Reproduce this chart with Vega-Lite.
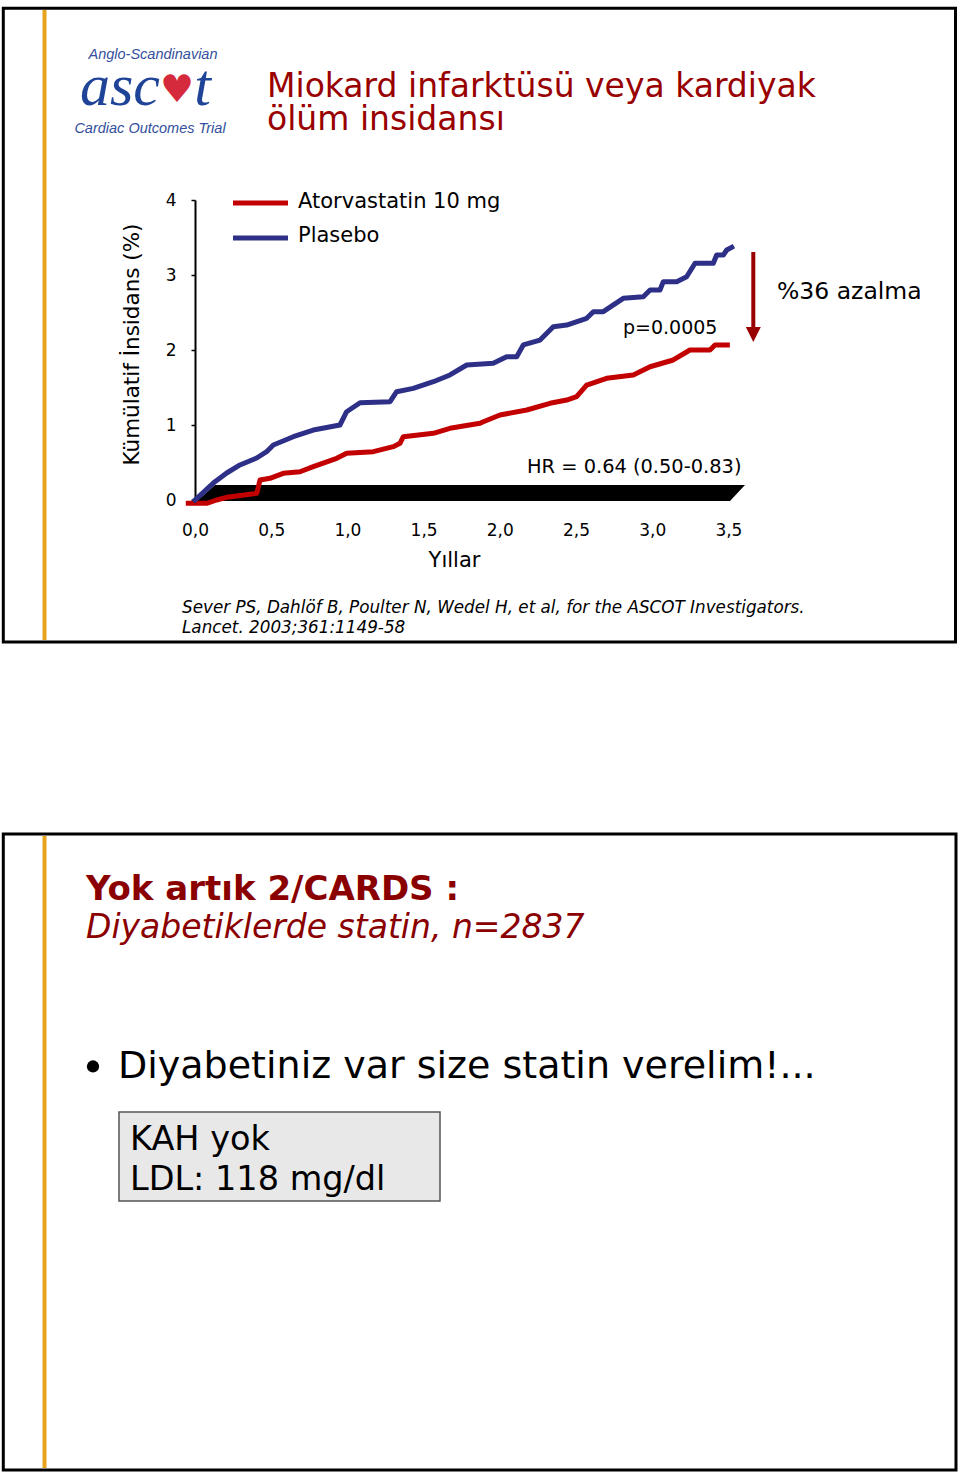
{
  "$schema": "https://vega.github.io/schema/vega-lite/v6.json",
  "width": 533.4,
  "height": 300,
  "autosize": {"type": "none"},
  "padding": {"left": 195, "top": 200, "right": 231.6, "bottom": 977},
  "background": "white",
  "config": {"view": {"stroke": null}, "font": "DejaVu Sans"},
  "datasets": {
    "egriler": [
      {"yil": -0.044, "oran": -0.044, "grup": "Atorvastatin 10 mg"},
      {"yil": 0.077, "oran": -0.044, "grup": "Atorvastatin 10 mg"},
      {"yil": 0.142, "oran": 0.0, "grup": "Atorvastatin 10 mg"},
      {"yil": 0.208, "oran": 0.036, "grup": "Atorvastatin 10 mg"},
      {"yil": 0.405, "oran": 0.089, "grup": "Atorvastatin 10 mg"},
      {"yil": 0.427, "oran": 0.267, "grup": "Atorvastatin 10 mg"},
      {"yil": 0.492, "oran": 0.289, "grup": "Atorvastatin 10 mg"},
      {"yil": 0.579, "oran": 0.356, "grup": "Atorvastatin 10 mg"},
      {"yil": 0.689, "oran": 0.377, "grup": "Atorvastatin 10 mg"},
      {"yil": 0.776, "oran": 0.444, "grup": "Atorvastatin 10 mg"},
      {"yil": 0.93, "oran": 0.556, "grup": "Atorvastatin 10 mg"},
      {"yil": 0.995, "oran": 0.623, "grup": "Atorvastatin 10 mg"},
      {"yil": 1.17, "oran": 0.644, "grup": "Atorvastatin 10 mg"},
      {"yil": 1.301, "oran": 0.711, "grup": "Atorvastatin 10 mg"},
      {"yil": 1.345, "oran": 0.756, "grup": "Atorvastatin 10 mg"},
      {"yil": 1.367, "oran": 0.844, "grup": "Atorvastatin 10 mg"},
      {"yil": 1.564, "oran": 0.889, "grup": "Atorvastatin 10 mg"},
      {"yil": 1.673, "oran": 0.956, "grup": "Atorvastatin 10 mg"},
      {"yil": 1.87, "oran": 1.023, "grup": "Atorvastatin 10 mg"},
      {"yil": 1.892, "oran": 1.044, "grup": "Atorvastatin 10 mg"},
      {"yil": 2.001, "oran": 1.133, "grup": "Atorvastatin 10 mg"},
      {"yil": 2.177, "oran": 1.2, "grup": "Atorvastatin 10 mg"},
      {"yil": 2.329, "oran": 1.289, "grup": "Atorvastatin 10 mg"},
      {"yil": 2.439, "oran": 1.333, "grup": "Atorvastatin 10 mg"},
      {"yil": 2.504, "oran": 1.377, "grup": "Atorvastatin 10 mg"},
      {"yil": 2.57, "oran": 1.533, "grup": "Atorvastatin 10 mg"},
      {"yil": 2.701, "oran": 1.623, "grup": "Atorvastatin 10 mg"},
      {"yil": 2.876, "oran": 1.667, "grup": "Atorvastatin 10 mg"},
      {"yil": 2.986, "oran": 1.777, "grup": "Atorvastatin 10 mg"},
      {"yil": 3.138, "oran": 1.867, "grup": "Atorvastatin 10 mg"},
      {"yil": 3.248, "oran": 2.0, "grup": "Atorvastatin 10 mg"},
      {"yil": 3.379, "oran": 2.0, "grup": "Atorvastatin 10 mg"},
      {"yil": 3.412, "oran": 2.067, "grup": "Atorvastatin 10 mg"},
      {"yil": 3.493, "oran": 2.067, "grup": "Atorvastatin 10 mg"},
      {"yil": 0.0, "oran": 0.0, "grup": "Plasebo"},
      {"yil": 0.131, "oran": 0.244, "grup": "Plasebo"},
      {"yil": 0.208, "oran": 0.36, "grup": "Plasebo"},
      {"yil": 0.295, "oran": 0.467, "grup": "Plasebo"},
      {"yil": 0.405, "oran": 0.56, "grup": "Plasebo"},
      {"yil": 0.47, "oran": 0.644, "grup": "Plasebo"},
      {"yil": 0.514, "oran": 0.733, "grup": "Plasebo"},
      {"yil": 0.645, "oran": 0.844, "grup": "Plasebo"},
      {"yil": 0.776, "oran": 0.933, "grup": "Plasebo"},
      {"yil": 0.951, "oran": 1.0, "grup": "Plasebo"},
      {"yil": 0.995, "oran": 1.177, "grup": "Plasebo"},
      {"yil": 1.083, "oran": 1.297, "grup": "Plasebo"},
      {"yil": 1.28, "oran": 1.311, "grup": "Plasebo"},
      {"yil": 1.323, "oran": 1.444, "grup": "Plasebo"},
      {"yil": 1.432, "oran": 1.489, "grup": "Plasebo"},
      {"yil": 1.564, "oran": 1.577, "grup": "Plasebo"},
      {"yil": 1.673, "oran": 1.667, "grup": "Plasebo"},
      {"yil": 1.783, "oran": 1.8, "grup": "Plasebo"},
      {"yil": 1.957, "oran": 1.823, "grup": "Plasebo"},
      {"yil": 2.045, "oran": 1.911, "grup": "Plasebo"},
      {"yil": 2.111, "oran": 1.911, "grup": "Plasebo"},
      {"yil": 2.154, "oran": 2.067, "grup": "Plasebo"},
      {"yil": 2.264, "oran": 2.133, "grup": "Plasebo"},
      {"yil": 2.351, "oran": 2.311, "grup": "Plasebo"},
      {"yil": 2.439, "oran": 2.333, "grup": "Plasebo"},
      {"yil": 2.57, "oran": 2.423, "grup": "Plasebo"},
      {"yil": 2.614, "oran": 2.511, "grup": "Plasebo"},
      {"yil": 2.679, "oran": 2.511, "grup": "Plasebo"},
      {"yil": 2.81, "oran": 2.689, "grup": "Plasebo"},
      {"yil": 2.942, "oran": 2.711, "grup": "Plasebo"},
      {"yil": 2.986, "oran": 2.8, "grup": "Plasebo"},
      {"yil": 3.051, "oran": 2.8, "grup": "Plasebo"},
      {"yil": 3.073, "oran": 2.911, "grup": "Plasebo"},
      {"yil": 3.161, "oran": 2.911, "grup": "Plasebo"},
      {"yil": 3.226, "oran": 2.977, "grup": "Plasebo"},
      {"yil": 3.281, "oran": 3.156, "grup": "Plasebo"},
      {"yil": 3.401, "oran": 3.156, "grup": "Plasebo"},
      {"yil": 3.423, "oran": 3.267, "grup": "Plasebo"},
      {"yil": 3.467, "oran": 3.267, "grup": "Plasebo"},
      {"yil": 3.489, "oran": 3.333, "grup": "Plasebo"},
      {"yil": 3.522, "oran": 3.369, "grup": "Plasebo"}
    ],
    "zemin": [
      {"yil": 0.0131, "alt": -0.0133, "ust": -0.0133},
      {"yil": 0.1312, "alt": -0.0133, "ust": 0.2},
      {"yil": 3.5105, "alt": -0.0133, "ust": 0.2},
      {"yil": 3.609, "alt": 0.2, "ust": 0.2}
    ]
  },
  "layer": [
    {
      "data": {"values": [{}]},
      "mark": {"type": "rect", "filled": false, "stroke": "black", "strokeWidth": 3},
      "encoding": {"x": {"datum": -1.2579}, "x2": {"datum": 4.9902}, "y": {"datum": 6.556}, "y2": {"datum": -1.8933}}
    },
    {
      "data": {"values": [{}]},
      "mark": {"type": "rect", "filled": false, "stroke": "black", "strokeWidth": 3},
      "encoding": {"x": {"datum": -1.2579}, "x2": {"datum": 4.9934}, "y": {"datum": -4.4533}, "y2": {"datum": -12.9333}}
    },
    {
      "data": {"values": [{}]},
      "mark": {"type": "rule", "color": "#e8a31c", "strokeWidth": 4},
      "encoding": {"x": {"datum": -0.9875}, "y": {"datum": 6.5333}, "y2": {"datum": -1.8667}}
    },
    {
      "data": {"values": [{}]},
      "mark": {"type": "rule", "color": "#e8a31c", "strokeWidth": 4},
      "encoding": {"x": {"datum": -0.9875}, "y": {"datum": -4.48}, "y2": {"datum": -12.9067}}
    },
    {
      "data": {"name": "zemin"},
      "mark": {"type": "area", "color": "black", "opacity": 1},
      "encoding": {
        "x": {"field": "yil", "type": "quantitative"},
        "y": {"field": "alt", "type": "quantitative"},
        "y2": {"field": "ust"}
      }
    },
    {
      "data": {"name": "egriler"},
      "mark": {"type": "line", "strokeWidth": 5, "strokeCap": "square", "strokeJoin": "round"},
      "encoding": {
        "x": {
          "field": "yil", "type": "quantitative",
          "scale": {"domain": [0, 3.5], "nice": false, "zero": false},
          "axis": {
            "title": "Yıllar", "values": [0, 0.5, 1, 1.5, 2, 2.5, 3, 3.5], "format": ".1f",
            "labelExpr": "replace(datum.label, '.', ',')",
            "grid": false, "domain": false, "ticks": true, "tickSize": 0,
            "labelFlush": false, "labelOverlap": false,
            "labelPadding": 30, "labelBaseline": "middle",
            "labelFont": "DejaVu Sans", "labelFontSize": 17, "labelColor": "black",
            "titleFont": "DejaVu Sans", "titleFontSize": 21, "titleFontWeight": "normal", "titleColor": "black",
            "titleX": 259, "titleY": 60, "titleBaseline": "middle", "titleAlign": "center"
          }
        },
        "y": {
          "field": "oran", "type": "quantitative",
          "scale": {"domain": [0, 4], "nice": false, "zero": false},
          "axis": {
            "title": "Kümülatif İnsidans (%)", "values": [0, 1, 2, 3, 4], "format": "d",
            "grid": false, "domainColor": "black", "domainWidth": 2,
            "tickColor": "black", "tickSize": 4, "tickWidth": 1.5,
            "labelFlush": false, "labelPadding": 15,
            "labelFont": "DejaVu Sans", "labelFontSize": 17, "labelColor": "black",
            "titleFont": "DejaVu Sans", "titleFontSize": 21.5, "titleFontWeight": "normal", "titleColor": "black",
            "titleX": -63, "titleY": 144, "titleBaseline": "middle", "titleAngle": 270, "titleAlign": "center"
          }
        },
        "color": {
          "field": "grup", "type": "nominal",
          "scale": {"domain": ["Atorvastatin 10 mg", "Plasebo"], "range": ["#c20000", "#2e3088"]},
          "legend": null
        }
      }
    },
    {
      "data": {"values": [{}]},
      "mark": {"type": "rule", "color": "#c20000", "strokeWidth": 5},
      "encoding": {"x": {"datum": 0.2493}, "x2": {"datum": 0.6102}, "y": {"datum": 3.96}}
    },
    {
      "data": {"values": [{}]},
      "mark": {"type": "rule", "color": "#2e3088", "strokeWidth": 5},
      "encoding": {"x": {"datum": 0.2493}, "x2": {"datum": 0.6102}, "y": {"datum": 3.4933}}
    },
    {
      "data": {"values": [{}]},
      "mark": {"type": "text", "text": "Atorvastatin 10 mg", "align": "left", "baseline": "middle", "fontSize": 21, "color": "black"},
      "encoding": {"x": {"datum": 0.6759}, "y": {"datum": 3.9733}}
    },
    {
      "data": {"values": [{}]},
      "mark": {"type": "text", "text": "Plasebo", "align": "left", "baseline": "middle", "fontSize": 21, "color": "black"},
      "encoding": {"x": {"datum": 0.6759}, "y": {"datum": 3.52}}
    },
    {
      "data": {"values": [{}]},
      "mark": {"type": "text", "text": "p=0.0005", "align": "left", "baseline": "middle", "fontSize": 19, "color": "black"},
      "encoding": {"x": {"datum": 2.8084}, "y": {"datum": 2.2933}}
    },
    {
      "data": {"values": [{}]},
      "mark": {"type": "text", "text": "HR = 0.64 (0.50-0.83)", "align": "left", "baseline": "middle", "fontSize": 19.4, "color": "black"},
      "encoding": {"x": {"datum": 2.1785}, "y": {"datum": 0.44}}
    },
    {
      "data": {"values": [{}]},
      "mark": {"type": "text", "text": "%36 azalma", "align": "left", "baseline": "middle", "fontSize": 23.5, "color": "black"},
      "encoding": {"x": {"datum": 3.8189}, "y": {"datum": 2.7733}}
    },
    {
      "data": {"values": [{}]},
      "mark": {"type": "rule", "color": "#990000", "strokeWidth": 4},
      "encoding": {"x": {"datum": 3.6634}, "y": {"datum": 3.3067}, "y2": {"datum": 2.2667}}
    },
    {
      "data": {"values": [{}]},
      "mark": {"type": "point", "shape": "M-1,-1L1,-1L0,1Z", "filled": true, "color": "#990000", "size": 225, "opacity": 1},
      "encoding": {"x": {"datum": 3.6634}, "y": {"datum": 2.2067}}
    },
    {
      "data": {"values": [{}]},
      "mark": {"type": "text", "text": "Miokard infarktüsü veya kardiyak", "align": "left", "baseline": "alphabetic", "fontSize": 33, "color": "#990000"},
      "encoding": {"x": {"datum": 0.4724}, "y": {"datum": 5.3733}}
    },
    {
      "data": {"values": [{}]},
      "mark": {"type": "text", "text": "ölüm insidansı", "align": "left", "baseline": "alphabetic", "fontSize": 33, "color": "#990000"},
      "encoding": {"x": {"datum": 0.4724}, "y": {"datum": 4.9333}}
    },
    {
      "data": {"values": [{}]},
      "mark": {"type": "text", "text": "Anglo-Scandinavian", "align": "center", "baseline": "alphabetic", "font": "Liberation Sans Narrow, Liberation Sans", "fontStyle": "italic", "fontSize": 14.5, "color": "#34509c"},
      "encoding": {"x": {"datum": -0.2756}, "y": {"datum": 5.88}}
    },
    {
      "data": {"values": [{}]},
      "mark": {"type": "text", "text": "asc", "align": "left", "baseline": "alphabetic", "font": "Liberation Serif", "fontStyle": "italic", "fontSize": 60, "color": "#1f4397"},
      "encoding": {"x": {"datum": -0.7546}, "y": {"datum": 5.2667}}
    },
    {
      "data": {"values": [{}]},
      "mark": {"type": "text", "text": "♥", "align": "center", "baseline": "middle", "font": "DejaVu Sans", "fontSize": 38, "color": "#d42a3c"},
      "encoding": {"x": {"datum": -0.1181}, "y": {"datum": 5.4533}}
    },
    {
      "data": {"values": [{}]},
      "mark": {"type": "text", "text": "t", "align": "left", "baseline": "alphabetic", "font": "Liberation Serif", "fontStyle": "italic", "fontSize": 60, "color": "#1f4397"},
      "encoding": {"x": {"datum": -0.005}, "y": {"datum": 5.2667}}
    },
    {
      "data": {"values": [{}]},
      "mark": {"type": "text", "text": "Cardiac Outcomes Trial", "align": "center", "baseline": "alphabetic", "font": "Liberation Sans Narrow, Liberation Sans", "fontStyle": "italic", "fontSize": 14.5, "color": "#34509c"},
      "encoding": {"x": {"datum": -0.2953}, "y": {"datum": 4.8933}}
    },
    {
      "data": {"values": [{}]},
      "mark": {"type": "text", "text": "Sever PS, Dahlöf B, Poulter N, Wedel H, et al, for the ASCOT Investigators.", "align": "left", "baseline": "middle", "fontStyle": "italic", "fontSize": 16.8, "color": "black"},
      "encoding": {"x": {"datum": -0.0853}, "y": {"datum": -1.44}}
    },
    {
      "data": {"values": [{}]},
      "mark": {"type": "text", "text": "Lancet. 2003;361:1149-58", "align": "left", "baseline": "middle", "fontStyle": "italic", "fontSize": 16.8, "color": "black"},
      "encoding": {"x": {"datum": -0.0853}, "y": {"datum": -1.7067}}
    },
    {
      "data": {"values": [{}]},
      "mark": {"type": "text", "text": "Yok artık 2/CARDS :", "align": "left", "baseline": "alphabetic", "fontSize": 34, "fontWeight": "bold", "color": "#8a0000"},
      "encoding": {"x": {"datum": -0.7152}, "y": {"datum": -5.3333}}
    },
    {
      "data": {"values": [{}]},
      "mark": {"type": "text", "text": "Diyabetiklerde statin, n=2837", "align": "left", "baseline": "alphabetic", "fontSize": 33, "fontStyle": "italic", "color": "#8a0000"},
      "encoding": {"x": {"datum": -0.7152}, "y": {"datum": -5.84}}
    },
    {
      "data": {"values": [{}]},
      "mark": {"type": "point", "shape": "circle", "filled": true, "color": "black", "size": 150, "opacity": 1},
      "encoding": {"x": {"datum": -0.6693}, "y": {"datum": -7.5533}}
    },
    {
      "data": {"values": [{}]},
      "mark": {"type": "text", "text": "Diyabetiniz var size statin verelim!...", "align": "left", "baseline": "alphabetic", "fontSize": 38, "color": "black"},
      "encoding": {"x": {"datum": -0.5052}, "y": {"datum": -7.7067}}
    },
    {
      "data": {"values": [{}]},
      "mark": {"type": "rect", "fill": "#e8e8e8", "stroke": "#555555", "strokeWidth": 1.5},
      "encoding": {"x": {"datum": -0.4987}, "x2": {"datum": 1.6076}, "y": {"datum": -8.16}, "y2": {"datum": -9.3467}}
    },
    {
      "data": {"values": [{}]},
      "mark": {"type": "text", "text": "KAH yok", "align": "left", "baseline": "alphabetic", "fontSize": 33.5, "color": "black"},
      "encoding": {"x": {"datum": -0.4265}, "y": {"datum": -8.6667}}
    },
    {
      "data": {"values": [{}]},
      "mark": {"type": "text", "text": "LDL: 118 mg/dl", "align": "left", "baseline": "alphabetic", "fontSize": 33.5, "color": "black"},
      "encoding": {"x": {"datum": -0.4265}, "y": {"datum": -9.2}}
    }
  ]
}
